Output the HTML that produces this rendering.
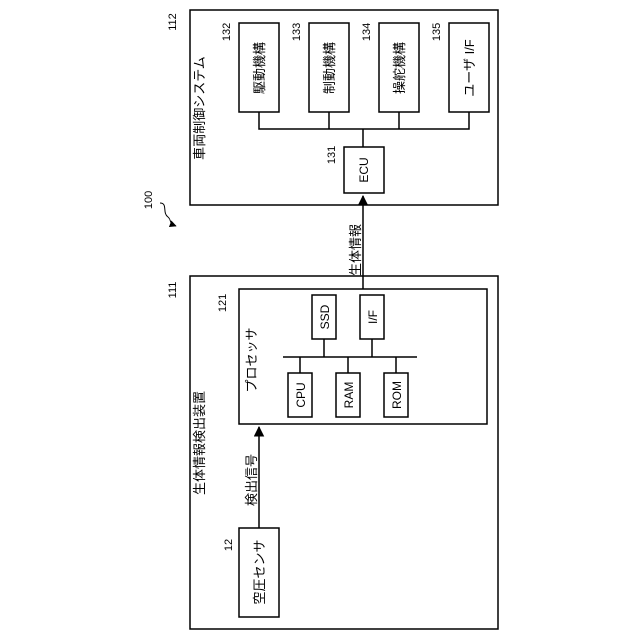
<!DOCTYPE html>
<html><head><meta charset="utf-8"><style>
html,body{margin:0;padding:0;background:#fff}
svg{display:block}
text{font-family:"Liberation Sans","Noto Sans CJK JP",sans-serif;fill:#000}
</style></head><body>
<svg width="640" height="640" viewBox="0 0 640 640" xmlns="http://www.w3.org/2000/svg">
<defs><marker id="a" viewBox="0 0 10 10" refX="9" refY="5" markerWidth="7" markerHeight="7" orient="auto"><path d="M0,0L10,5L0,10z"/></marker></defs>
<g fill="none" stroke="#000" stroke-width="1.5">
<rect x="190" y="10" width="308" height="195"/>
<rect x="239" y="23" width="40" height="89"/>
<rect x="309" y="23" width="40" height="89"/>
<rect x="379" y="23" width="40" height="89"/>
<rect x="449" y="23" width="40" height="89"/>
<path d="M259,112V129H469V112M329,112V129M399,112V129M363,129V147"/>
<rect x="344" y="147" width="40" height="46"/>
<rect x="190" y="276" width="308" height="353"/>
<rect x="239" y="289" width="248" height="135"/>
<rect x="312" y="295" width="24" height="44"/>
<rect x="360" y="295" width="24" height="44"/>
<path d="M283,357H417M324,339V357M372,339V357M300,357V373M348,357V373M396,357V373"/>
<rect x="288" y="373" width="24" height="44"/>
<rect x="336" y="373" width="24" height="44"/>
<rect x="384" y="373" width="24" height="44"/>
<rect x="239" y="528" width="40" height="89"/>
<path d="M363,289V196" marker-end="url(#a)"/>
<path d="M259,528V427" marker-end="url(#a)"/>
<path d="M160,203c8,0 2,10 8,14c4,3 0,6 8,9" stroke-width="1" marker-end="url(#a)"/>
</g>
<g font-size="13">
<text transform="translate(204,108) rotate(-90)" text-anchor="middle">車両制御システム</text>
<text transform="translate(264,68) rotate(-90)" text-anchor="middle">駆動機構</text>
<text transform="translate(334,68) rotate(-90)" text-anchor="middle">制動機構</text>
<text transform="translate(404,68) rotate(-90)" text-anchor="middle">操舵機構</text>
<text transform="translate(474,68) rotate(-90)" text-anchor="middle">ユーザ I/F</text>
<text transform="translate(368,170) rotate(-90)" text-anchor="middle" font-size="12">ECU</text>
<text transform="translate(360,250) rotate(-90)" text-anchor="middle">生体情報</text>
<text transform="translate(204,443) rotate(-90)" text-anchor="middle">生体情報検出装置</text>
<text transform="translate(256,360) rotate(-90)" text-anchor="middle">プロセッサ</text>
<text transform="translate(329,317) rotate(-90)" text-anchor="middle" font-size="12">SSD</text>
<text transform="translate(377,317) rotate(-90)" text-anchor="middle" font-size="12">I/F</text>
<text transform="translate(305,395) rotate(-90)" text-anchor="middle" font-size="12">CPU</text>
<text transform="translate(353,395) rotate(-90)" text-anchor="middle" font-size="12">RAM</text>
<text transform="translate(401,395) rotate(-90)" text-anchor="middle" font-size="12">ROM</text>
<text transform="translate(256,480) rotate(-90)" text-anchor="middle">検出信号</text>
<text transform="translate(264,572) rotate(-90)" text-anchor="middle">空圧センサ</text>
</g>
<g font-size="11">
<text transform="translate(152,200) rotate(-90)" text-anchor="middle">100</text>
<text transform="translate(176,22) rotate(-90)" text-anchor="middle">112</text>
<text transform="translate(176,290) rotate(-90)" text-anchor="middle">111</text>
<text transform="translate(226,303) rotate(-90)" text-anchor="middle">121</text>
<text transform="translate(232,545) rotate(-90)" text-anchor="middle">12</text>
<text transform="translate(230,32) rotate(-90)" text-anchor="middle">132</text>
<text transform="translate(300,32) rotate(-90)" text-anchor="middle">133</text>
<text transform="translate(370,32) rotate(-90)" text-anchor="middle">134</text>
<text transform="translate(440,32) rotate(-90)" text-anchor="middle">135</text>
<text transform="translate(335,155) rotate(-90)" text-anchor="middle">131</text>
</g>
</svg>
</body></html>
